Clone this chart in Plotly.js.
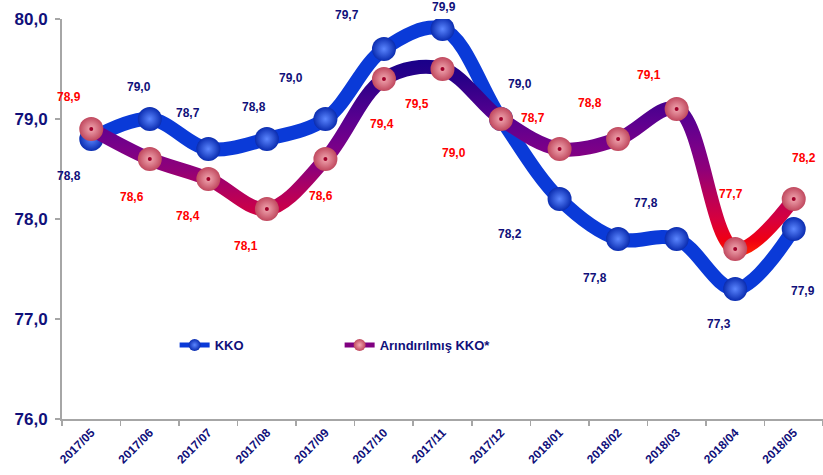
<!DOCTYPE html>
<html>
<head>
<meta charset="utf-8">
<script src="https://cdn.plot.ly/plotly-3.0.1.min.js"></script>
<style>
  html, body { margin: 0; padding: 0; background: #ffffff; }
  #chart { width: 823px; height: 475px; }
</style>
</head>
<body>
<div id="chart"></div>
<script>
// ---- data ----
const categories = ['2017/05','2017/06','2017/07','2017/08','2017/09','2017/10','2017/11',
                    '2017/12','2018/01','2018/02','2018/03','2018/04','2018/05'];
const kko = [78.8, 79.0, 78.7, 78.8, 79.0, 79.7, 79.9, 79.0, 78.2, 77.8, 77.8, 77.3, 77.9];
const arindirilmis = [78.9, 78.6, 78.4, 78.1, 78.6, 79.4, 79.5, 79.0, 78.7, 78.8, 79.1, 77.7, 78.2];
const yTickValues = [76, 77, 78, 79, 80];
const seriesNames = ['KKO', 'Arındırılmış KKO*'];

// ---- label placement (pixel offsets from each point) ----
const kkoLabelShift = [[-22,37],[-11,-32],[-20,-36],[-13,-32],[-34,-41],[-37,-34],[1,-22],
                       [19,-35],[-50,35],[-23,39],[-31,-36],[-16,35],[9,62]];
const arLabelShift = [[-22,-32],[-18,38],[-20,37],[-21,37],[-4,37],[-2,45],[-26,35],
                      [-47,34],[-27,-31],[-28,-36],[-28,-34],[-4,-55],[10,-41]];

const FONT = 'Arial, "Liberation Sans", sans-serif';
const NAVY = '#10107a';
const fmt = v => v.toFixed(1).replace('.', ',');

const kkoStyle = {
  line: { shape: 'spline', smoothing: 1, width: 14, color: '#0a3ad8' },
  marker: { size: 24, color: '#0a2cb0', gradient: { type: 'radial', color: '#5b86ff' }, line: { width: 0 } }
};
const arStyle = {
  line: { shape: 'spline', smoothing: 1, width: 14, color: '#800080' },
  marker: { size: 24, color: '#c0485e', gradient: { type: 'radial', color: '#f2a9b2' }, line: { width: 0 } }
};

const traces = [
  { x: categories, y: kko, name: seriesNames[0], type: 'scatter', mode: 'lines+markers',
    line: kkoStyle.line, marker: kkoStyle.marker, showlegend: false, hoverinfo: 'x+y' },
  { x: categories, y: arindirilmis, name: seriesNames[1], type: 'scatter', mode: 'lines+markers',
    line: arStyle.line, marker: arStyle.marker, showlegend: false, hoverinfo: 'x+y' },
  { x: categories, y: arindirilmis, type: 'scatter', mode: 'markers', showlegend: false,
    marker: { size: 4, color: '#a0002a' }, hoverinfo: 'skip' },
  // legend entries (smaller symbols as in the original legend)
  { x: [null], y: [null], name: seriesNames[0], type: 'scatter', mode: 'lines+markers',
    line: { width: 5, color: '#0a3ad8' },
    marker: { size: 12, color: '#0a2cb0', gradient: { type: 'radial', color: '#5b86ff' } } },
  { x: [null], y: [null], name: seriesNames[1], type: 'scatter', mode: 'lines+markers',
    line: { width: 5, color: '#800080' },
    marker: { size: 12, color: '#c0485e', gradient: { type: 'radial', color: '#f2a9b2' } } }
];

const annotations = [];
categories.forEach((c, i) => {
  annotations.push({ x: c, y: kko[i], text: fmt(kko[i]), showarrow: false,
    xshift: kkoLabelShift[i][0], yshift: -kkoLabelShift[i][1],
    font: { family: FONT, size: 12, color: NAVY, weight: 'bold' } });
  annotations.push({ x: c, y: arindirilmis[i], text: fmt(arindirilmis[i]), showarrow: false,
    xshift: arLabelShift[i][0], yshift: -arLabelShift[i][1],
    font: { family: FONT, size: 12, color: '#ff0000', weight: 'bold' } });
});

const layout = {
  width: 823, height: 475,
  margin: { l: 62, r: 0, t: 19, b: 56 },
  paper_bgcolor: '#ffffff', plot_bgcolor: '#ffffff',
  separators: ',.',
  showlegend: true,
  legend: {
    orientation: 'h', x: 0.148, xanchor: 'left', y: 0.185, yanchor: 'middle',
    font: { family: FONT, size: 13, color: NAVY, weight: 'bold' },
    bgcolor: 'rgba(0,0,0,0)', itemwidth: 30,
    entrywidth: 120, entrywidthmode: 'pixels', tracegroupgap: 0
  },
  xaxis: {
    type: 'category', tickson: 'boundaries', ticks: 'outside', ticklen: 5,
    tickcolor: '#a6a6a6', tickwidth: 1.5, showline: true, linecolor: '#a6a6a6', linewidth: 2,
    showgrid: false, zeroline: false, tickangle: -45, fixedrange: true,
    tickfont: { family: FONT, size: 12, color: NAVY, weight: 'bold' },
    range: [-0.5, 12.5]
  },
  yaxis: {
    range: [76, 80], tickvals: yTickValues, tickformat: '.1f', ticks: 'outside', ticklen: 5,
    tickcolor: '#a6a6a6', tickwidth: 1.5, showline: true, linecolor: '#a6a6a6', linewidth: 2,
    showgrid: false, zeroline: false, fixedrange: true, ticklabelstandoff: 4,
    tickfont: { family: FONT, size: 17, color: NAVY, weight: 'bold' }
  },
  annotations: annotations
};

const gd = document.getElementById('chart');
Plotly.newPlot(gd, traces, layout, { displayModeBar: false, staticPlot: true }).then(() => {
  // vertical colour gradient on the "Arındırılmış" line, as in the original
  const ya = gd._fullLayout.yaxis;
  const svgNS = 'http://www.w3.org/2000/svg';
  const defs = gd.querySelector('svg.main-svg defs');
  const grad = document.createElementNS(svgNS, 'linearGradient');
  grad.setAttribute('id', 'arGrad');
  grad.setAttribute('gradientUnits', 'userSpaceOnUse');
  grad.setAttribute('x1', 0); grad.setAttribute('x2', 0);
  grad.setAttribute('y1', ya.d2p(79.7)); grad.setAttribute('y2', ya.d2p(77.5));
  const stops = [[0, '#10008a'], [0.14, '#2a0088'], [0.32, '#5a0090'], [0.45, '#7a0088'],
                 [0.55, '#900078'], [0.64, '#b00060'], [0.78, '#d8003c'], [0.87, '#f00012'],
                 [0.93, '#ff2000'], [1, '#ff7a00']];
  stops.forEach(s => {
    const st = document.createElementNS(svgNS, 'stop');
    st.setAttribute('offset', s[0]); st.setAttribute('stop-color', s[1]);
    grad.appendChild(st);
  });
  defs.appendChild(grad);
  const lines = gd.querySelectorAll('.scatterlayer .trace path.js-line');
  if (lines[1]) lines[1].style.stroke = 'url(#arGrad)';
});
</script>
</body>
</html>
